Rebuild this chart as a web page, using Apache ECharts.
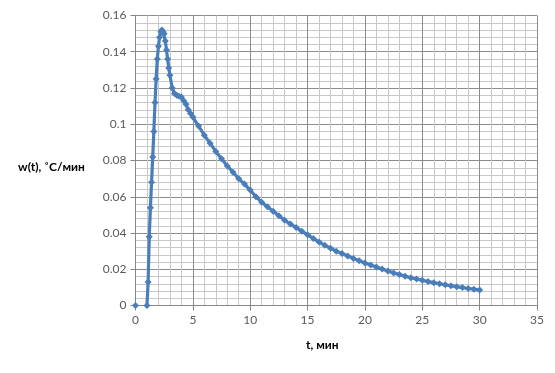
<!DOCTYPE html>
<html>
<head>
<meta charset="utf-8">
<script src="https://cdn.jsdelivr.net/npm/echarts@6/dist/echarts.min.js"></script>
<style>
html,body{margin:0;padding:0;background:#fff;}
#chart{width:555px;height:373px;}
</style>
</head>
<body>
<div id="chart"></div>
<script>
// Time, min
const tValues = [0, 1.0, 1.1, 1.2, 1.3, 1.4, 1.5, 1.6, 1.7, 1.8, 1.9, 2.0, 2.1, 2.2, 2.3, 2.4, 2.5, 2.6, 2.7, 2.8, 2.9, 3.0,
  3.2, 3.4, 3.6, 3.8, 4.0, 4.2, 4.4, 4.6, 4.8, 5.0,
  5.5, 6.0, 6.5, 7.0, 7.5, 8.0, 8.5, 9.0, 9.5, 10.0, 10.5, 11.0, 11.5, 12.0, 12.5, 13.0, 13.5, 14.0, 14.5, 15.0,
  15.5, 16.0, 16.5, 17.0, 17.5, 18.0, 18.5, 19.0, 19.5, 20.0, 20.5, 21.0, 21.5, 22.0, 22.5, 23.0, 23.5, 24.0,
  24.5, 25.0, 25.5, 26.0, 26.5, 27.0, 27.5, 28.0, 28.5, 29.0, 29.5, 30.0];
// w(t), °C/min
const wValues = [0, 0, 0.013, 0.038, 0.054, 0.068, 0.082, 0.096, 0.112, 0.125, 0.136, 0.143, 0.148, 0.151, 0.152, 0.151, 0.150, 0.146, 0.141, 0.136, 0.131, 0.127,
  0.120, 0.117, 0.116, 0.1155, 0.115, 0.113, 0.111, 0.108, 0.106, 0.104,
  0.099, 0.094, 0.0895, 0.085, 0.081, 0.077, 0.0735, 0.070, 0.067, 0.0637, 0.060, 0.057, 0.0545, 0.052, 0.0495, 0.047, 0.045, 0.043, 0.041, 0.039,
  0.037, 0.035, 0.0333, 0.0316, 0.030, 0.0287, 0.0273, 0.026, 0.0247, 0.0235, 0.0223, 0.0212, 0.0201, 0.019, 0.018, 0.0171, 0.0162, 0.0153,
  0.0146, 0.0139, 0.0132, 0.0126, 0.012, 0.0114, 0.0109, 0.0104, 0.0099, 0.0094, 0.009, 0.0085];
const xAxisTitle = 't, мин';
const yAxisTitle = 'w(t), ˚C/мин';

const allPoints = tValues.map((t, i) => [t, wValues[i]]);
// the first reading stands alone (no connecting line to the next one)
const firstPoint = allPoints.slice(0, 1);
const curvePoints = allPoints.slice(1);
const chart = echarts.init(document.getElementById('chart'));
const labelStyle = {color: '#595959', fontSize: 12, fontFamily: 'Lato'};
const blue = '#4a7ebb';
const lineSeries = (data) => ({
  type: 'line',
  data: data,
  symbol: 'diamond',
  symbolSize: 7,
  showAllSymbol: true,
  itemStyle: {color: blue},
  lineStyle: {color: blue, width: 3.2}
});
chart.setOption({
  animation: false,
  backgroundColor: '#fff',
  grid: {left: 135.5, right: 18, top: 15.5, bottom: 67.5, containLabel: false},
  xAxis: {
    type: 'value', min: 0, max: 35, interval: 5,
    axisLine: {show: true, lineStyle: {color: '#868686', width: 1}},
    axisTick: {show: true, length: 5, lineStyle: {color: '#868686'}},
    axisLabel: Object.assign({margin: 9}, labelStyle),
    splitLine: {show: true, lineStyle: {color: '#8c8c8c', width: 1}},
    minorTick: {show: false, splitNumber: 5},
    minorSplitLine: {show: true, lineStyle: {color: '#c8c8c8', width: 1}}
  },
  yAxis: {
    type: 'value', min: 0, max: 0.16, interval: 0.02,
    axisLine: {show: true, lineStyle: {color: '#868686', width: 1}},
    axisTick: {show: true, length: 5, lineStyle: {color: '#868686'}},
    axisLabel: Object.assign({margin: 9}, labelStyle),
    splitLine: {show: true, lineStyle: {color: '#8c8c8c', width: 1}},
    minorTick: {show: false, splitNumber: 5},
    minorSplitLine: {show: true, lineStyle: {color: '#c8c8c8', width: 1}}
  },
  graphic: [
    {type: 'text', left: 18, top: 161, style: {text: yAxisTitle, fill: '#000', font: 'bold 12px Lato'}},
    {type: 'text', left: 306, top: 339, style: {text: xAxisTitle, fill: '#000', font: 'bold 12px Lato'}}
  ],
  series: [lineSeries(firstPoint), lineSeries(curvePoints)]
});
</script>
</body>
</html>
